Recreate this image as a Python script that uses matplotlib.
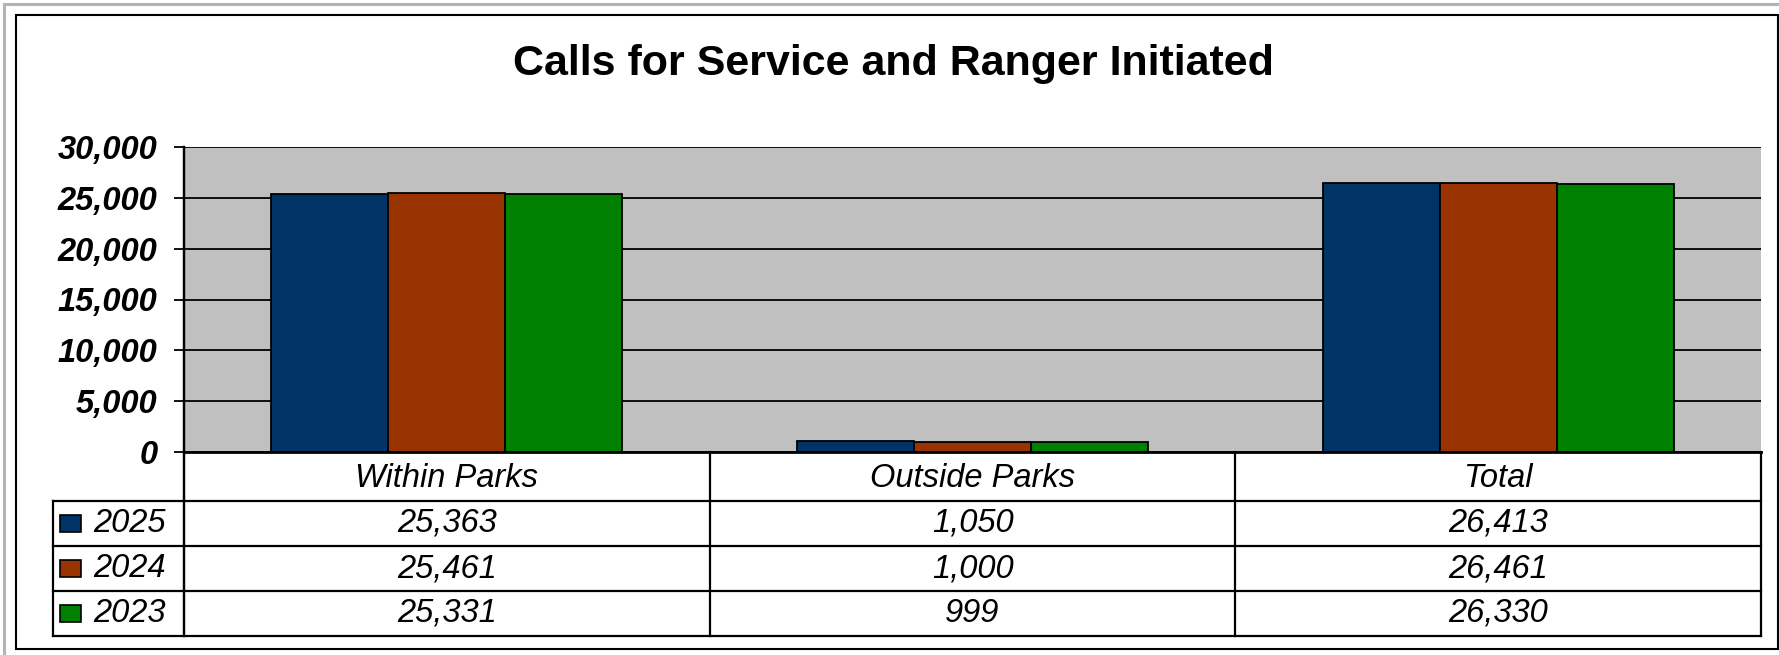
import numpy as np
import matplotlib.pyplot as plt
from matplotlib.transforms import blended_transform_factory
from matplotlib.patches import Rectangle

plt.rcParams['font.family'] = ['Liberation Sans', 'DejaVu Sans']

# datos
categorias = ['Within Parks', 'Outside Parks', 'Total']
anios = ['2025', '2024', '2023']
valores = {
    '2025': [25363, 1050, 26413],
    '2024': [25461, 1000, 26461],
    '2023': [25331, 999, 26330],
}
colores = ['#003366', '#993300', '#008000']
titulo = 'Calls for Service and Ranger Initiated'

W, H = 1779, 655
fig = plt.figure(figsize=(W / 100, H / 100), dpi=100)

# caja del grafico en pixeles (izq, arriba, der, abajo)
px_l, px_t, px_r, px_b = 184, 147, 1761, 452
ax = fig.add_axes([px_l / W, (H - px_b) / H, (px_r - px_l) / W, (px_b - px_t) / H])
ax.set_facecolor('#c0c0c0')

x = np.arange(len(categorias))
ancho = 0.2226
for i, anio in enumerate(anios):
    ax.bar(x + (i - 1) * ancho, valores[anio], ancho, color=colores[i],
           edgecolor='black', linewidth=1.3, zorder=3)

ax.set_xlim(-0.5, len(categorias) - 0.5)
ax.set_ylim(0, 30000)
ax.set_yticks(np.arange(0, 30001, 5000))
ax.set_yticklabels([f'{v:,}' for v in range(0, 30001, 5000)],
                   fontsize=23.5, fontweight='bold', fontstyle='italic')
ax.set_xticks([])
ax.tick_params(axis='y', length=7.2, width=1.3, pad=12)
ax.yaxis.grid(True, color='black', linewidth=1.3, zorder=1)
ax.set_axisbelow(True)
for lado in ['top', 'right', 'bottom']:
    ax.spines[lado].set_visible(False)
ax.spines['left'].set_linewidth(1.6)

# capa superior en pixeles para marco y tabla
ov = fig.add_axes([0, 0, 1, 1], facecolor='none')
ov.set_xlim(0, W)
ov.set_ylim(H, 0)
ov.axis('off')

# bordes exteriores
ov.plot([4, W], [4, 4], color='#b4b4b4', lw=2.2)
ov.plot([4, 4], [4, H], color='#b4b4b4', lw=2.2)
ov.add_patch(Rectangle((16, 15), 1762, 634, fill=False, edgecolor='black', lw=1.5))

fig.text(893 / W, 1 - 75 / H, titulo, ha='center', va='baseline',
         fontsize=31, fontweight='bold')

# tabla de datos
mix = blended_transform_factory(ax.transData, ov.transData)
filas = [452, 501, 546, 591, 636]
lw_t = 1.6
ov.plot([px_l, px_r], [filas[0], filas[0]], color='black', lw=2)
for y in filas[1:]:
    ov.plot([53, px_r], [y, y], color='black', lw=lw_t)
ov.plot([px_l, px_l], [px_t, filas[-1]], color='black', lw=lw_t)
ov.plot([53, 53], [filas[1], filas[-1]], color='black', lw=lw_t)
for xd in np.arange(len(categorias) + 1) - 0.5:
    ov.plot([xd, xd], [filas[0], filas[-1]], color='black', lw=lw_t, transform=mix)

for j, cat in enumerate(categorias):
    ov.text(j, (filas[0] + filas[1]) / 2 + 2, cat, transform=mix, ha='center',
            va='center', fontsize=23.5, fontstyle='italic')

for i, anio in enumerate(anios):
    yc = (filas[i + 1] + filas[i + 2]) / 2
    ov.add_patch(Rectangle((60, yc - 8.5), 21, 17, facecolor=colores[i],
                           edgecolor='black', lw=1.2))
    ov.text(93, yc, anio, ha='left', va='center', fontsize=23.5, fontstyle='italic')
    for j, v in enumerate(valores[anio]):
        ov.text(j, yc, f'{v:,}', transform=mix, ha='center', va='center',
                fontsize=23.5, fontstyle='italic')

fig.savefig('out.png', dpi=100)
